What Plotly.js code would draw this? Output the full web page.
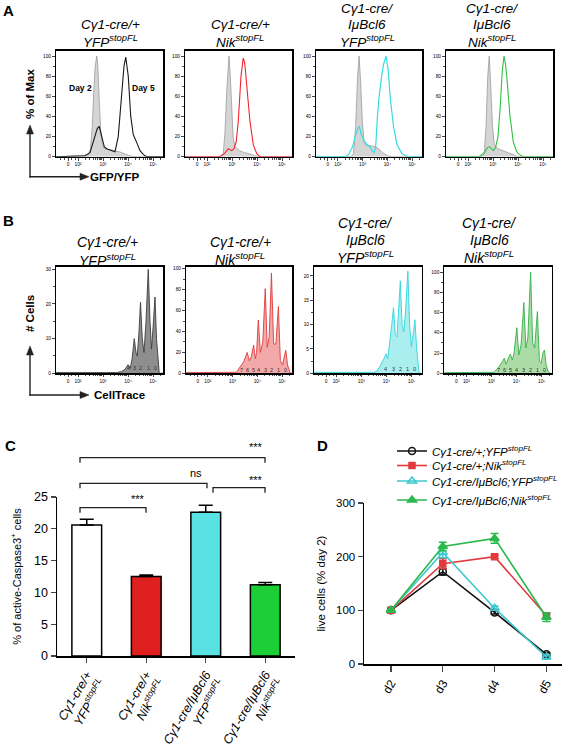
<!DOCTYPE html>
<html><head><meta charset="utf-8">
<script src="https://cdn.plot.ly/plotly-3.0.1.min.js"></script>
<style>html,body{margin:0;padding:0;background:#fff}</style>
</head><body><div id="chart" style="width:575px;height:750px"></div>
<script>
// ---------------- DATA ----------------
// Histogram x values are in decades of fluorescence (log10), y in % of max / cell counts
const histTickVals = [1.6, 2, 3, 4, 5];
const histTickText = ['0', '10²', '10³', '10⁴', '10⁵'];

// Panel A (GFP/YFP, % of Max)
const a1CtrlX = [1.12, 2.40, 2.50, 2.57, 2.63, 2.69, 2.75, 2.79, 2.85, 2.91, 2.97, 3.05, 3.25, 3.45, 3.65, 3.85, 4.05, 4.25, 5.40];
const a1CtrlY = [0, 1, 8, 30, 65, 90, 100, 92, 55, 25, 12, 8, 7, 6, 5, 3, 1, 0, 0];
const a1SampX = [1.12, 2.27, 2.48, 2.65, 2.77, 2.85, 2.95, 3.05, 3.15, 3.35, 3.48, 3.61, 3.75, 3.84, 3.91, 4.01, 4.11, 4.21, 4.35, 4.48, 4.62, 4.75, 5.40];
const a1SampY = [0, 1, 4, 18, 28, 30, 20, 10, 8, 6, 5, 20, 60, 90, 99, 80, 40, 22, 14, 6, 2, 0, 0];

const a2CtrlX = [1.12, 2.55, 2.65, 2.72, 2.80, 2.85, 2.88, 2.93, 2.99, 3.05, 3.12, 3.30, 3.50, 3.70, 3.90, 4.10, 5.40];
const a2CtrlY = [0, 0, 3, 25, 70, 95, 100, 80, 45, 18, 10, 6, 4, 3, 1, 0, 0];
const a2SampX = [1.12, 2.50, 2.70, 2.85, 2.99, 3.08, 3.17, 3.25, 3.36, 3.45, 3.50, 3.53, 3.61, 3.72, 3.85, 3.99, 4.12, 5.40];
const a2SampY = [0, 0, 3, 8, 6, 8, 15, 35, 80, 98, 94, 88, 65, 35, 12, 3, 0, 0];

const a3CtrlX = [1.12, 2.55, 2.63, 2.72, 2.80, 2.86, 2.92, 2.99, 3.06, 3.15, 3.30, 3.50, 3.65, 3.80, 4.00, 4.20, 5.40];
const a3CtrlY = [0, 0, 3, 30, 80, 100, 75, 35, 15, 11, 11, 10, 8, 4, 1, 0, 0];
const a3SampX = [1.12, 2.30, 2.43, 2.60, 2.70, 2.80, 2.87, 2.95, 3.04, 3.10, 3.17, 3.30, 3.40, 3.47, 3.53, 3.60, 3.67, 3.78, 3.85, 3.95, 4.00, 4.04, 4.11, 4.25, 4.39, 4.59, 4.86, 5.40];
const a3SampY = [0, 0, 2, 10, 20, 28, 30, 22, 17, 15, 12, 10, 5, 4, 10, 40, 60, 82, 92, 100, 88, 85, 60, 30, 12, 3, 0, 0];

const a4CtrlX = [1.12, 2.55, 2.65, 2.72, 2.79, 2.85, 2.91, 2.98, 3.05, 3.20, 3.40, 3.60, 3.80, 4.00, 5.40];
const a4CtrlY = [0, 0, 3, 30, 80, 100, 70, 30, 12, 8, 6, 4, 2, 0, 0];
const a4SampX = [1.12, 2.45, 2.65, 2.78, 2.85, 2.95, 3.02, 3.10, 3.20, 3.29, 3.37, 3.44, 3.50, 3.55, 3.68, 3.81, 3.93, 4.01, 4.20, 5.40];
const a4SampY = [0, 0, 4, 9, 10, 7, 6, 9, 20, 50, 85, 100, 92, 80, 40, 15, 6, 3, 0, 0];

// Panel B (CellTrace, # Cells)
const b1X = [1.12, 3.54, 3.74, 3.89, 4.00, 4.09, 4.16, 4.25, 4.32, 4.37, 4.44, 4.50, 4.57, 4.64, 4.72, 4.81, 4.88, 4.94, 5.01, 5.08, 5.14, 5.20, 5.25, 5.40];
const b1Y = [0.2, 0.2, 0.5, 1.2, 2.5, 1.5, 4, 10, 6, 5, 12, 20.5, 10, 6, 15, 30, 15, 7, 14, 22, 10, 3, 0, 0];
const b1DivX = [4.00, 4.25, 4.50, 4.81, 5.08];
const b1DivText = ['4', '3', '2', '1', '0'];

const b2X = [1.12, 3.10, 3.17, 3.30, 3.45, 3.59, 3.68, 3.76, 3.85, 3.92, 3.97, 4.04, 4.12, 4.22, 4.32, 4.40, 4.48, 4.57, 4.66, 4.75, 4.85, 4.93, 5.02, 5.08, 5.15, 5.22, 5.30, 5.33, 5.40];
const b2Y = [0.6, 0.6, 1, 6, 11, 20, 12, 16, 27, 14, 20, 51, 20, 30, 81, 25, 35, 96, 28, 28, 64, 12, 8, 15, 22, 8, 1, 0, 0];
const b2DivX = [3.35, 3.59, 3.85, 4.04, 4.32, 4.57, 4.85, 5.15];
const b2DivText = ['7', '6', '5', '4', '3', '2', '1', '0'];

const b3X = [1.12, 3.50, 3.62, 3.75, 3.90, 3.98, 4.05, 4.13, 4.21, 4.28, 4.35, 4.42, 4.48, 4.55, 4.62, 4.69, 4.76, 4.85, 4.92, 4.99, 5.06, 5.13, 5.20, 5.27, 5.30, 5.40];
const b3Y = [0.2, 0.2, 0.5, 1.5, 3, 4, 3, 6, 10, 13.5, 8, 7.5, 12, 19, 10, 8.5, 13, 21, 10, 5.5, 8, 11, 5, 1, 0, 0];
const b3DivX = [3.98, 4.28, 4.55, 4.85, 5.13];
const b3DivText = ['4', '3', '2', '1', '0'];

const b4X = [1.12, 2.90, 3.10, 3.25, 3.35, 3.45, 3.51, 3.58, 3.66, 3.75, 3.83, 3.90, 4.01, 4.09, 4.18, 4.29, 4.37, 4.45, 4.56, 4.64, 4.72, 4.83, 4.91, 4.98, 5.05, 5.11, 5.18, 5.26, 5.32, 5.40];
const b4Y = [0.6, 0.6, 1, 5, 8, 12, 15, 9, 14, 19, 13, 20, 45, 18, 28, 70, 25, 35, 100, 30, 25, 61, 12, 10, 20, 23, 8, 2, 0, 0];
const b4DivX = [3.27, 3.51, 3.75, 4.01, 4.29, 4.56, 4.83, 5.11];
const b4DivText = ['7', '6', '5', '4', '3', '2', '1', '0'];

// Panel C (% active-Caspase3+ cells)
const cCategories = ['Cγ1-cre/+<br>YFP<sup>stopFL</sup>', 'Cγ1-cre/+<br>Nik<sup>stopFL</sup>', 'Cγ1-cre/IμBcl6<br>YFP<sup>stopFL</sup>', 'Cγ1-cre/IμBcl6<br>Nik<sup>stopFL</sup>'];
const cValues = [20.6, 12.5, 22.6, 11.2];
const cErrors = [0.9, 0.25, 1.1, 0.35];

// Panel D (live cells, % day 2)
const dDays = ['d2', 'd3', 'd4', 'd5'];
const dNames = ['Cγ1-cre/+;YFP<sup>stopFL</sup>', 'Cγ1-cre/+;Nik<sup>stopFL</sup>', 'Cγ1-cre/IμBcl6;YFP<sup>stopFL</sup>', 'Cγ1-cre/IμBcl6;Nik<sup>stopFL</sup>'];
const dYfp = [100, 172, 96, 18];
const dYfpErr = [0, 6, 3, 3];
const dNik = [100, 187, 200, 90];
const dNikErr = [0, 9, 3, 4];
const dBclYfp = [100, 208, 104, 13];
const dBclYfpErr = [0, 10, 4, 4];
const dBclNik = [100, 219, 234, 87];
const dBclNikErr = [0, 8, 9, 8];

// ---------------- LAYOUT HELPERS ----------------
const W = 575, H = 750;
const FONT = 'Liberation Sans, Arial, Helvetica, sans-serif';
const px = v => v / W;
const py = v => 1 - v / H;

const layout = {
  width: W, height: H, margin: {l: 0, r: 0, t: 0, b: 0},
  paper_bgcolor: '#fff', plot_bgcolor: 'rgba(0,0,0,0)',
  font: {family: FONT, color: '#000', weight: 'normal'},
  showlegend: true,
  annotations: [], shapes: []
};
const traces = [];

const histMinor = [];
[1.3, 1.45, 1.75, 1.88].forEach(v => histMinor.push(v));
for (let k = 2; k <= 4; k++) for (let m = 2; m <= 9; m++) histMinor.push(k + Math.log10(m));
histMinor.push(5 + Math.log10(2));

function histAxes(n, x0, x1, ytop, ybot, yrange, ytick, ydminor) {
  const xs = 'xaxis' + n, ys = 'yaxis' + n;
  layout[xs] = {
    domain: [px(x0), px(x1)], anchor: 'y' + n, range: [1.12, 5.40],
    tickvals: histTickVals, ticktext: histTickText, ticks: 'outside', ticklen: 2.5, tickwidth: 1,
    showline: true, mirror: true, linewidth: 1.5, linecolor: '#000', showgrid: false, zeroline: false,
    tickfont: {family: FONT, size: 4.8, color: '#000'},
    minor: {tickvals: histMinor, ticks: 'outside', ticklen: 1.5, tickwidth: 0.7, tickcolor: '#000', showgrid: false}
  };
  layout[ys] = {
    domain: [py(ybot), py(ytop)], anchor: 'x' + n, range: yrange, dtick: ytick, tick0: 0,
    ticks: 'outside', ticklen: 2.5, tickwidth: 1,
    showline: true, mirror: true, linewidth: 1.5, linecolor: '#000', showgrid: false, zeroline: false,
    tickfont: {family: FONT, size: 4.8, color: '#000'},
    minor: {dtick: ydminor, ticks: 'outside', ticklen: 1.5, tickwidth: 0.7, tickcolor: '#000', showgrid: false}
  };
}
function area(n, x, y, fillcolor, linecolor, lw) {
  traces.push({type: 'scatter', mode: 'lines', x: x, y: y, xaxis: 'x' + n, yaxis: 'y' + n,
    fill: 'tozeroy', fillcolor: fillcolor, line: {color: linecolor, width: lw},
    showlegend: false, hoverinfo: 'skip'});
}
function curve(n, x, y, color, lw) {
  traces.push({type: 'scatter', mode: 'lines', x: x, y: y, xaxis: 'x' + n, yaxis: 'y' + n,
    line: {color: color, width: lw}, showlegend: false, hoverinfo: 'skip'});
}
function divLabels(n, x, text, level) {
  x.forEach((v, i) => layout.annotations.push({xref: 'x' + n, yref: 'y' + n, x: v, y: level,
    text: text[i], showarrow: false, xanchor: 'center', yanchor: 'middle',
    font: {family: FONT, size: 5.5, color: '#333'}}));
}

// ---------------- PANEL A ----------------
histAxes('', 56, 163, 50.7, 156.7, [0, 105.3], 20, 10);
histAxes(2, 185, 292, 50.7, 156.7, [0, 105.3], 20, 10);
histAxes(3, 316, 422, 50.7, 156.7, [0, 105.3], 20, 10);
histAxes(4, 446, 553, 50.7, 156.7, [0, 105.3], 20, 10);
const greyFill = '#d5d5d5', greyLine = '#9a9a9a';
area('', a1CtrlX, a1CtrlY, greyFill, greyLine, 0.8);  curve('', a1SampX, a1SampY, '#1a1a1a', 1.1);
area(2, a2CtrlX, a2CtrlY, greyFill, greyLine, 0.8);   curve(2, a2SampX, a2SampY, '#f5232d', 1.1);
area(3, a3CtrlX, a3CtrlY, greyFill, greyLine, 0.8);   curve(3, a3SampX, a3SampY, '#33dde4', 1.2);
area(4, a4CtrlX, a4CtrlY, greyFill, greyLine, 0.8);   curve(4, a4SampX, a4SampY, '#2fc243', 1.1);

// ---------------- PANEL B ----------------
histAxes(5, 56, 163, 266.7, 373.3, [0, 30.75], 10, 5);
histAxes(6, 186, 292, 266.7, 373.3, [0, 102], 20, 10);
histAxes(7, 314, 421.7, 266.7, 373.3, [0, 21.9], 5, 2.5);
histAxes(8, 444.3, 551.7, 266.7, 373.3, [0, 105.3], 20, 10);
area(5, b1X, b1Y, '#8e8e8e', '#3c3c3c', 0.9);
area(6, b2X, b2Y, '#f3a9a9', '#e03a3a', 0.9);
area(7, b3X, b3Y, '#aaeef0', '#30d5dc', 0.9);
area(8, b4X, b4Y, '#abdca6', '#35b04b', 0.9);
divLabels(5, b1DivX, b1DivText, 1.4);
divLabels(6, b2DivX, b2DivText, 3.6);
divLabels(7, b3DivX, b3DivText, 0.8);
divLabels(8, b4DivX, b4DivText, 3.6);

// ---------------- PANEL C ----------------
layout.xaxis9 = {domain: [px(57), px(295)], anchor: 'y9', type: 'category', range: [-0.5, 3.5],
  showline: true, linewidth: 1.5, linecolor: '#000', ticks: 'outside', ticklen: 5, tickwidth: 1.3,
  tickangle: -60, showgrid: false, zeroline: false,
  tickfont: {family: FONT, size: 12.5, style: 'italic', weight: 'normal', color: '#000'}};
layout.yaxis9 = {domain: [py(656), py(497)], anchor: 'x9', range: [0, 25], dtick: 5,
  showline: true, linewidth: 1.5, linecolor: '#000', ticks: 'outside', ticklen: 5, tickwidth: 1.3,
  showgrid: false, zeroline: false, tickfont: {family: FONT, size: 12.5, color: '#000'},
  title: {text: '% of active-Caspase3<sup>+</sup> cells', font: {family: FONT, size: 11, color: '#000'}, standoff: 10}};
traces.push({type: 'bar', x: cCategories, y: cValues, xaxis: 'x9', yaxis: 'y9', width: 0.5,
  marker: {color: ['#ffffff', '#e0201f', '#58e2e3', '#1ccf37'], line: {color: '#000', width: 1.5}},
  error_y: {type: 'data', symmetric: false, array: cErrors, arrayminus: cErrors.map(() => 0),
    color: '#000', thickness: 1.5, width: 7},
  showlegend: false, hoverinfo: 'skip'});

function pathShape(pts, closed, fill, color, width) {
  let d = pts.map((p, i) => (i ? 'L' : 'M') + px(p[0]) + ',' + py(p[1])).join(' ');
  if (closed) d += ' Z';
  const s = {type: 'path', xref: 'paper', yref: 'paper', path: d, line: {color: color, width: width}};
  if (fill) s.fillcolor = fill;
  layout.shapes.push(s);
}
function bracket(xl, xr, y, drop) {
  pathShape([[xl, y + drop], [xl, y], [xr, y], [xr, y + drop]], false, null, '#222', 1.3);
}
bracket(80, 265, 457.7, 5);
bracket(80, 207, 483.3, 5);
bracket(213, 265, 487.7, 5);
bracket(80, 146, 507.7, 5);

// ---------------- PANEL D ----------------
layout.xaxis10 = {domain: [px(364), px(562)], anchor: 'y10', type: 'category', range: [-0.52, 3.3],
  showline: true, linewidth: 1.5, linecolor: '#000', ticks: 'outside', ticklen: 6, tickwidth: 1.3,
  tickangle: -60, showgrid: false, zeroline: false, tickfont: {family: FONT, size: 12, color: '#000'}};
layout.yaxis10 = {domain: [py(664), py(503)], anchor: 'x10', range: [0, 300], dtick: 100,
  showline: true, linewidth: 1.5, linecolor: '#000', ticks: 'outside', ticklen: 5, tickwidth: 1.3,
  showgrid: false, zeroline: false, tickfont: {family: FONT, size: 11.5, color: '#000'},
  title: {text: 'live cells (% day 2)', font: {family: FONT, size: 11.5, color: '#000'}, standoff: 8}};

const dSeries = [
  {y: dYfp, e: dYfpErr, color: '#111111', symbol: 'circle-open', size: 7, leg: 'legend'},
  {y: dNik, e: dNikErr, color: '#e23a3d', symbol: 'square', size: 6, leg: 'legend2'},
  {y: dBclYfp, e: dBclYfpErr, color: '#3cc8d0', symbol: 'triangle-up-open', size: 8, leg: 'legend3'},
  {y: dBclNik, e: dBclNikErr, color: '#2bb84c', symbol: 'triangle-up', size: 8, leg: 'legend4'}
];
dSeries.forEach((s, i) => {
  traces.push({type: 'scatter', mode: 'lines+markers', x: dDays, y: s.y, name: dNames[i],
    xaxis: 'x10', yaxis: 'y10', legend: s.leg,
    line: {color: s.color, width: 1.6},
    marker: {symbol: s.symbol, size: s.size, color: s.color, line: {color: s.color, width: 1.5}},
    error_y: {type: 'data', array: s.e, color: s.color, thickness: 1.5, width: 4},
    hoverinfo: 'skip', cliponaxis: false});
});
const legRows = [451, 465.5, 481, 500];
['legend', 'legend2', 'legend3', 'legend4'].forEach((L, i) => {
  layout[L] = {x: px(392), xanchor: 'left', y: py(legRows[i]), yanchor: 'middle',
    bgcolor: 'rgba(0,0,0,0)', borderwidth: 0, itemwidth: 30, itemclick: false,
    font: {family: FONT, size: 11.5, style: 'italic', weight: 'normal', color: '#000'}};
});

// ---------------- TEXT ----------------
function txt(x, y, text, font, extra) {
  layout.annotations.push(Object.assign({xref: 'paper', yref: 'paper', x: px(x), y: py(y), text: text,
    showarrow: false, xanchor: 'center', yanchor: 'middle',
    font: Object.assign({family: FONT, size: 14, color: '#000', weight: 'normal'}, font)}, extra || {}));
}
const ital = {style: 'italic', weight: 'normal', size: 13.5};
const italB = {style: 'italic', weight: 'normal', size: 14};
// Panel letters
txt(8, 10.5, 'A', {weight: 'bold', size: 15});
txt(8, 220, 'B', {weight: 'bold', size: 15});
txt(10, 445, 'C', {weight: 'bold', size: 15});
txt(322, 445, 'D', {weight: 'bold', size: 15});
// Panel A titles
txt(110, 25, 'Cγ1-cre/+', ital); txt(110, 41, 'YFP<sup>stopFL</sup>', ital);
txt(240, 25, 'Cγ1-cre/+', ital); txt(240, 41, 'Nik<sup>stopFL</sup>', ital);
txt(367, 8.5, 'Cγ1-cre/', ital); txt(367, 24.5, 'IμBcl6', ital); txt(367, 40.5, 'YFP<sup>stopFL</sup>', ital);
txt(492, 8.5, 'Cγ1-cre/', ital); txt(492, 24.5, 'IμBcl6', ital); txt(492, 40.5, 'Nik<sup>stopFL</sup>', ital);
// Panel B titles
txt(107, 242, 'Cγ1-cre/+', italB); txt(107, 260, 'YFP<sup>stopFL</sup>', italB);
txt(240, 242, 'Cγ1-cre/+', italB); txt(240, 259, 'Nik<sup>stopFL</sup>', italB);
txt(365, 223, 'Cγ1-cre/', italB); txt(365, 240, 'IμBcl6', italB); txt(365, 256.5, 'YFP<sup>stopFL</sup>', italB);
txt(489, 223, 'Cγ1-cre/', italB); txt(489, 240, 'IμBcl6', italB); txt(489, 256.5, 'Nik<sup>stopFL</sup>', italB);
// Day labels
txt(80, 88, 'Day 2', {weight: 'bold', size: 8.5});
txt(143.5, 88, 'Day 5', {weight: 'bold', size: 8.5});
// Axis arrows (shapes) + labels
function arrowUp(x, yTail, yTip) {
  pathShape([[x, yTail], [x, yTip + 8]], false, null, '#222', 1.4);
  pathShape([[x - 3.5, yTip + 9], [x, yTip], [x + 3.5, yTip + 9]], true, '#222', '#222', 0.5);
}
function arrowRight(xTail, xTip, y) {
  pathShape([[xTail, y], [xTip - 8, y]], false, null, '#222', 1.4);
  pathShape([[xTip - 9, y - 3.5], [xTip, y], [xTip - 9, y + 3.5]], true, '#222', '#222', 0.5);
}
arrowUp(30, 177.4, 125); arrowRight(29.3, 89, 176.7);
txt(30, 94, '% of Max', {weight: 'bold', size: 11.5}, {textangle: -90});
txt(115, 177, 'GFP/YFP', {weight: 'bold', size: 11.5});
arrowUp(30, 395.7, 346); arrowRight(29.3, 89, 395);
txt(30, 314, '# Cells', {weight: 'bold', size: 11.5}, {textangle: -90});
txt(119, 395, 'CellTrace', {weight: 'bold', size: 11.5});
// Significance labels
txt(256, 447, '***', {size: 11});
txt(196, 472.5, 'ns', {size: 11});
txt(256, 479.5, '***', {size: 11});
txt(138, 499, '***', {size: 11});

Plotly.newPlot('chart', traces, layout, {staticPlot: true, displayModeBar: false});
</script></body></html>
